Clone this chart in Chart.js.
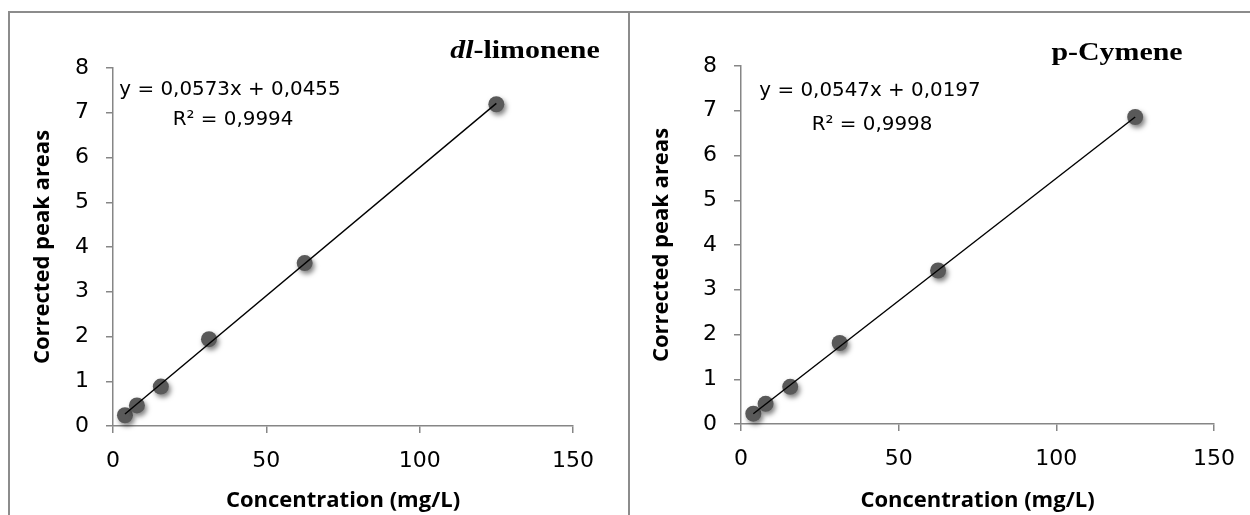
<!DOCTYPE html>
<html>
<head>
<meta charset="utf-8">
<script src="https://cdn.jsdelivr.net/npm/chart.js@4.4.1/dist/chart.umd.min.js"></script>
<style>
  body { margin: 0; background: #fff; width: 1250px; height: 515px; overflow: hidden; position: relative; }
  .panel { position: absolute; top: 11px; height: 520px; border-top: 2px solid #8c8c8c; border-left: 2px solid #8c8c8c; }
  canvas { position: absolute; top: 14px; }
</style>
</head>
<body>
<div class="panel" style="left:8px; width:619px;"></div>
<div class="panel" style="left:628px; width:622px;"></div>
<canvas id="limonene" width="618" height="501" style="left:11px;"></canvas>
<canvas id="cymene" width="619" height="501" style="left:631px;"></canvas>
<script>
// concentrations of the standards (mg/L)
const concentrations = [3.9, 7.8, 15.6, 31.3, 62.5, 125];
const limoneneAreas = [0.24, 0.46, 0.88, 1.94, 3.64, 7.19];
const cymeneAreas = [0.23, 0.45, 0.83, 1.81, 3.43, 6.86];

// trendline end points
const fitX = [3.9, 125];
const limoneneFit = [0.27, 7.21];
const cymeneFit = [0.23, 6.86];

const xTicks = [0, 50, 100, 150];
const yTicks = [0, 1, 2, 3, 4, 5, 6, 7, 8];

const limoneneEq = ["y = 0,0573x + 0,0455", "R² = 0,9994"];
const cymeneEq = ["y = 0,0547x + 0,0197", "R² = 0,9998"];

const axisGrey = "#868686";
const markerGrey = "#595959";

const toPoints = (xs, ys) => xs.map((x, i) => ({ x: x, y: ys[i] }));

// soft drop shadow under the markers
const markerShadow = {
  id: "markerShadow",
  beforeDatasetDraw(chart, args) {
    if (args.index !== 1) return;
    const ctx = chart.ctx;
    ctx.save();
    ctx.shadowColor = "rgba(0,0,0,0.5)";
    ctx.shadowBlur = 5;
    ctx.shadowOffsetX = 2;
    ctx.shadowOffsetY = 3;
  },
  afterDatasetDraw(chart, args) {
    if (args.index !== 1) return;
    chart.ctx.restore();
  }
};

// title and equation text
const labels = {
  id: "labels",
  afterDraw(chart, args, opts) {
    const ctx = chart.ctx;
    ctx.save();
    ctx.fillStyle = "#000";
    ctx.textBaseline = "alphabetic";

    // title, stretched a little wider like the original
    ctx.save();
    ctx.translate(opts.titleX, opts.titleY);
    ctx.scale(1.15, 1);
    const italicFont = "italic bold 26px 'Liberation Serif'";
    const boldFont = "bold 26px 'Liberation Serif'";
    ctx.font = italicFont;
    const w1 = opts.titleItalic ? ctx.measureText(opts.titleItalic).width : 0;
    ctx.font = boldFont;
    const w2 = ctx.measureText(opts.titleRest).width;
    let x = -(w1 + w2) / 2;
    ctx.textAlign = "left";
    if (opts.titleItalic) {
      ctx.font = italicFont;
      ctx.fillText(opts.titleItalic, x, 0);
      x += w1;
    }
    ctx.font = boldFont;
    ctx.fillText(opts.titleRest, x, 0);
    ctx.restore();

    ctx.font = "19.5px 'DejaVu Sans'";
    ctx.textAlign = "center";
    opts.eq.forEach((line, i) => {
      ctx.save();
      ctx.translate(opts.eqPos[i][0], opts.eqPos[i][1]);
      ctx.scale(1.02, 1);
      ctx.fillText(line, 0, 0);
      ctx.restore();
    });
    ctx.restore();
  }
};

function makeChart(id, areas, fit, textOpts, box) {
  return new Chart(document.getElementById(id), {
    type: "scatter",
    data: {
      datasets: [
        {
          data: toPoints(fitX, fit),
          showLine: true,
          borderColor: "#000",
          borderWidth: 1.4,
          pointRadius: 0,
          fill: false
        },
        {
          data: toPoints(concentrations, areas),
          backgroundColor: markerGrey,
          borderColor: markerGrey,
          pointRadius: 8,
          borderWidth: 0
        }
      ]
    },
    options: {
      responsive: false,
      animation: false,
      events: [],
      clip: false,
      layout: { padding: { top: box.top, right: box.right, left: 0, bottom: 0 } },
      plugins: {
        legend: { display: false },
        tooltip: { enabled: false },
        labels: textOpts
      },
      scales: {
        x: {
          type: "linear",
          min: xTicks[0],
          max: xTicks[xTicks.length - 1],
          afterBuildTicks: s => { s.ticks = xTicks.map(v => ({ value: v })); },
          afterFit: s => { s.height = box.xHeight; },
          grid: { drawOnChartArea: false, tickLength: 7, tickColor: axisGrey, lineWidth: 1.5 },
          border: { display: true, color: axisGrey, width: 1.5 },
          ticks: { color: "#000", padding: 15, font: { family: "DejaVu Sans", size: 22 } },
          title: {
            display: true,
            text: "Concentration (mg/L)",
            color: "#000",
            font: { family: "Open Sans", size: 22, weight: "bold" },
            padding: { top: 0, bottom: 1 }
          }
        },
        y: {
          type: "linear",
          min: yTicks[0],
          max: yTicks[yTicks.length - 1],
          afterBuildTicks: s => { s.ticks = yTicks.map(v => ({ value: v })); },
          afterFit: s => { s.width = box.yWidth; },
          grid: { drawOnChartArea: false, tickLength: 7, tickColor: axisGrey, lineWidth: 1.5 },
          border: { display: true, color: axisGrey, width: 1.5 },
          ticks: { color: "#000", padding: 17, font: { family: "DejaVu Sans", size: 22 } },
          title: {
            display: true,
            text: "Corrected peak areas",
            color: "#000",
            font: { family: "Open Sans", size: 22, weight: "bold" },
            padding: { top: box.yTitlePad, bottom: 0 }
          }
        }
      }
    },
    plugins: [markerShadow, labels]
  });
}

makeChart("limonene", limoneneAreas, limoneneFit, {
  titleItalic: "dl",
  titleRest: "-limonene",
  titleX: 514, titleY: 44,
  eq: limoneneEq,
  eqPos: [[219, 81], [222, 111]]
}, { top: 54, right: 56, xHeight: 89, yWidth: 102, yTitlePad: 19 });

makeChart("cymene", cymeneAreas, cymeneFit, {
  titleItalic: "",
  titleRest: "p-Cymene",
  titleX: 486, titleY: 46,
  eq: cymeneEq,
  eqPos: [[239, 82], [241, 116]]
}, { top: 52, right: 35, xHeight: 91, yWidth: 110, yTitlePad: 18 });
</script>
</body>
</html>
